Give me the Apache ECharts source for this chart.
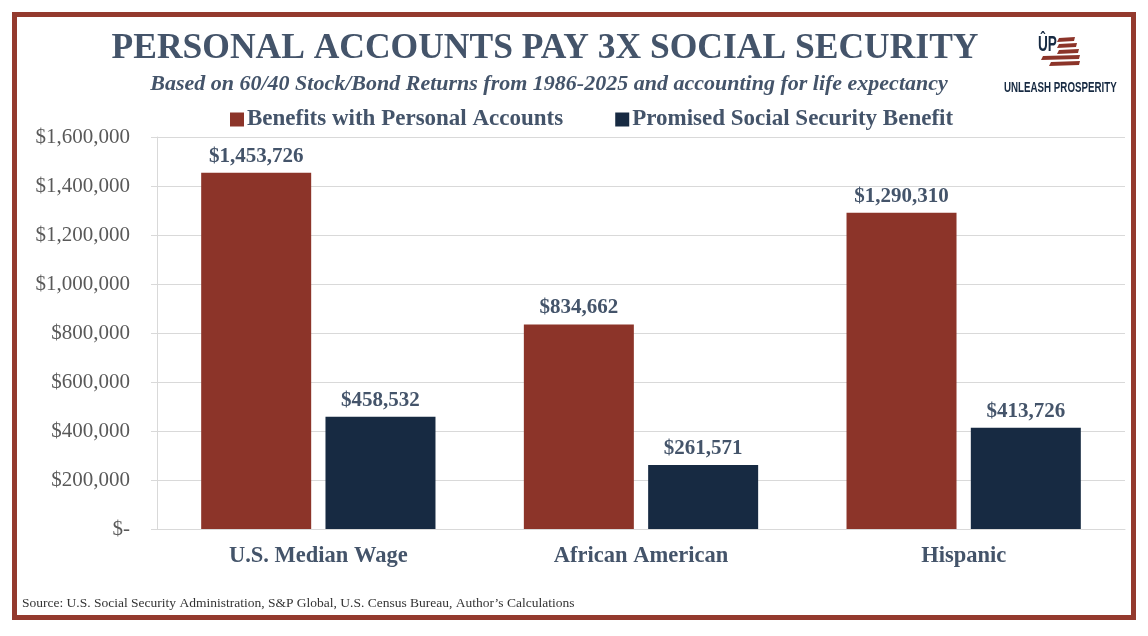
<!DOCTYPE html>
<html>
<head>
<meta charset="utf-8">
<script src="https://cdn.jsdelivr.net/npm/echarts@6/dist/echarts.min.js"></script>
<style>
  html, body { margin: 0; padding: 0; background: #fff; }
  #main { width: 1148px; height: 636px; }
</style>
</head>
<body>
<div id="main"></div>
<script>
// chart data
var categories = ['U.S. Median Wage', 'African American', 'Hispanic'];
var personalAccounts = [1453726, 834662, 1290310];
var socialSecurity = [458532, 261571, 413726];
var seriesNames = ['Benefits with Personal Accounts', 'Promised Social Security Benefit'];

var RED = '#8c3429';
var NAVY = '#172a42';
var SLATE = '#44546a';
var SERIF = '"Liberation Serif", "DejaVu Serif", serif';
var SANS = '"Liberation Sans", "DejaVu Sans", sans-serif';

function money(v) {
    if (v === 0) return '$-';
    return '$' + String(v).replace(/\B(?=(\d{3})+(?!\d))/g, ',');
}

var chart = echarts.init(document.getElementById('main'));

var barLabel = {
    show: true,
    position: 'top',
    distance: 6,
    color: SLATE,
    fontFamily: SERIF,
    fontWeight: 'bold',
    fontSize: 21,
    formatter: function (p) { return money(p.value); }
};

// little flag stripes for the logo
function stripe(x1, x2, y) {
    return { type: 'polygon', shape: { points: [[x1 + 2, y], [x2 + 1, y - 1], [x2, y + 3], [x1, y + 4]] },
             style: { fill: RED } };
}

var option = {
    backgroundColor: '#fff',
    animation: false,
    title: [{
        text: 'PERSONAL ACCOUNTS PAY 3X SOCIAL SECURITY',
        left: 540,
        textAlign: 'center',
        top: 26,
        textStyle: { color: SLATE, fontFamily: SERIF, fontWeight: 'bold', fontSize: 35.5 }
    }, {
        text: 'Based on 60/40 Stock/Bond Returns from 1986-2025 and accounting for life expectancy',
        left: 544,
        textAlign: 'center',
        top: 68,
        textStyle: { color: SLATE, fontFamily: SERIF, fontWeight: 'bold', fontStyle: 'italic', fontSize: 22 }
    }],
    legend: {
        data: seriesNames,
        left: 225,
        top: 103,
        icon: 'rect',
        itemWidth: 14,
        itemHeight: 14,
        itemGap: 52,
        textStyle: { color: SLATE, fontFamily: SERIF, fontWeight: 'bold', fontSize: 23, padding: [0, 0, 0, -2] }
    },
    grid: { left: 157, right: 23, top: 137, bottom: 107 },
    xAxis: {
        type: 'category',
        data: categories,
        axisLine: { lineStyle: { color: '#d9d9d9', width: 1 } },
        axisTick: { show: false },
        axisLabel: { color: SLATE, fontFamily: SERIF, fontWeight: 'bold', fontSize: 22.5, margin: 16 }
    },
    yAxis: {
        type: 'value',
        min: 0,
        max: 1600000,
        interval: 200000,
        axisLine: { show: true, lineStyle: { color: '#d9d9d9' } },
        axisTick: { show: true, length: 6, lineStyle: { color: '#d9d9d9' } },
        splitLine: { lineStyle: { color: '#d9d9d9' } },
        axisLabel: { color: '#595959', fontFamily: SERIF, fontSize: 21, margin: 27, formatter: money }
    },
    series: [{
        name: seriesNames[0],
        type: 'bar',
        data: personalAccounts,
        barWidth: 110,
        barGap: '13%',
        itemStyle: { color: RED },
        label: barLabel
    }, {
        name: seriesNames[1],
        type: 'bar',
        data: socialSecurity,
        barWidth: 110,
        barGap: '13%',
        itemStyle: { color: NAVY },
        label: barLabel
    }],
    graphic: [
        // outer frame
        { type: 'rect', shape: { x: 14.5, y: 14.5, width: 1119, height: 603 },
          style: { fill: null, stroke: '#943a2e', lineWidth: 5 }, z: 100 },
        // logo
        { type: 'text', x: 1038, y: 34, scaleX: 0.62,
          style: { text: 'ÛP', fill: NAVY, font: 'bold 22px ' + SANS, textVerticalAlign: 'top' } },
        stripe(1057, 1074, 38),
        stripe(1057, 1076, 44),
        stripe(1057, 1078, 50),
        stripe(1041, 1079, 56),
        stripe(1049, 1079, 62),
        { type: 'text', x: 1004, y: 80, scaleX: 0.65,
          style: { text: 'UNLEASH PROSPERITY', fill: NAVY, font: 'bold 15px ' + SANS, textVerticalAlign: 'top' } },
        // source note
        { type: 'text', x: 22, y: 596,
          style: { text: 'Source: U.S. Social Security Administration, S&P Global, U.S. Census Bureau, Author\u2019s Calculations',
                   fill: '#333', font: '13.5px ' + SERIF, textVerticalAlign: 'top' } }
    ]
};

chart.setOption(option);
</script>
</body>
</html>
